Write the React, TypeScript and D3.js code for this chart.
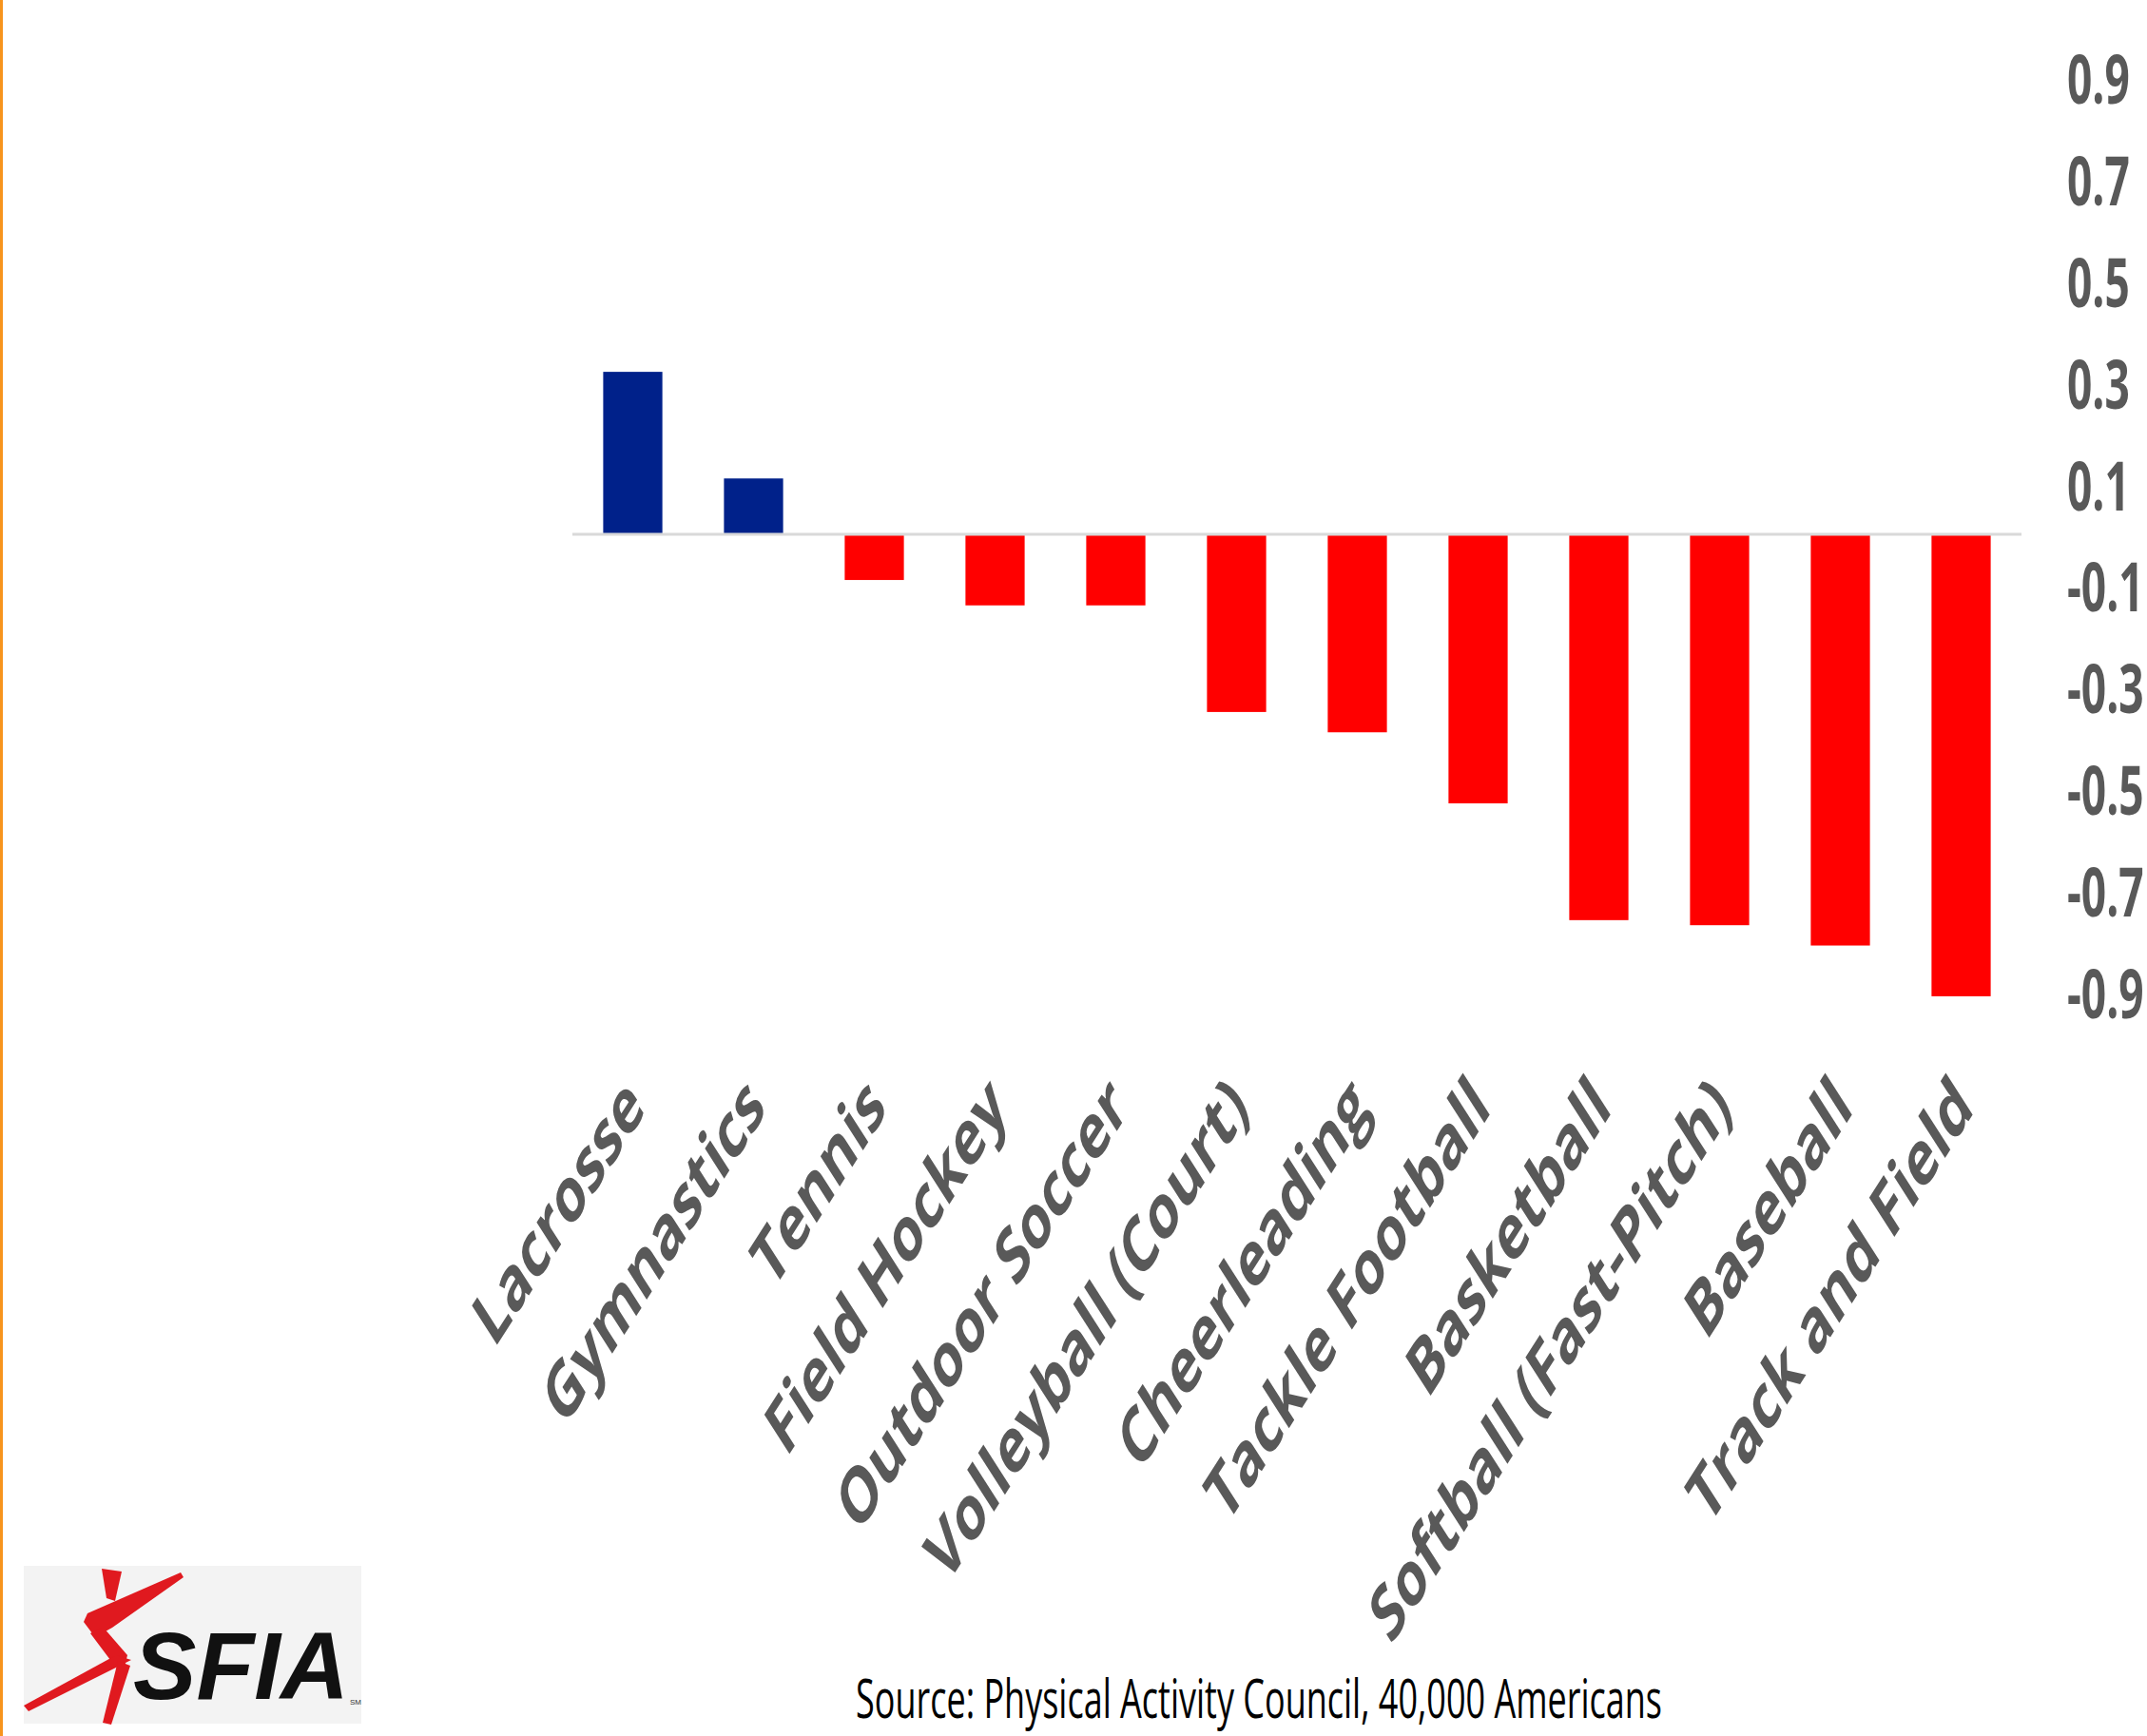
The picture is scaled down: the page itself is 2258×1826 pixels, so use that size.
import React from "react";
import * as d3 from "d3";

const categories = [
  "Lacrosse",
  "Gymnastics",
  "Tennis",
  "Field Hockey",
  "Outdoor Soccer",
  "Volleyball (Court)",
  "Cheerleading",
  "Tackle Football",
  "Basketball",
  "Softball (Fast-Pitch)",
  "Baseball",
  "Track and Field",
];
const values = [0.32, 0.11, -0.09, -0.14, -0.14, -0.35, -0.39, -0.53, -0.76, -0.77, -0.81, -0.91];
const tickValues = [0.9, 0.7, 0.5, 0.3, 0.1, -0.1, -0.3, -0.5, -0.7, -0.9];
const tickLabels = ["0.9", "0.7", "0.5", "0.3", "0.1", "-0.1", "-0.3", "-0.5", "-0.7", "-0.9"];
const sourceText = "Source: Physical Activity Council, 40,000 Americans";
const logoText = "SFIA";

const W = 2258;
const H = 1826;
const K = 0.64; // horizontal squish of the picture

export default function App() {
  const x = d3
    .scaleBand<string>()
    .domain(categories)
    .range([602, 2126])
    .paddingInner(0.51)
    .paddingOuter(0.255);
  const y = d3.scaleLinear().domain([-1, 1]).range([1096, 28]);
  const y0 = y(0);
  const red = "#E0191F";

  return (
    <svg
      width={W}
      height={H}
      viewBox={`0 0 ${W} ${H}`}
      style={{ position: "absolute", left: 0, top: 0, background: "#ffffff" }}
    >
      <rect x={0} y={0} width={W} height={H} fill="#ffffff" />
      <rect x={0} y={0} width={3} height={H} fill="#F7941D" />

      {/* bars */}
      {categories.map((c, i) => {
        const v = values[i];
        const top = v >= 0 ? y(v) : y0;
        const h = Math.abs(y(v) - y0);
        return (
          <rect
            key={c}
            x={x(c)}
            y={top}
            width={x.bandwidth()}
            height={h}
            fill={v >= 0 ? "#00218A" : "#FF0000"}
          />
        );
      })}

      {/* zero line */}
      <line x1={602} x2={2126} y1={y0} y2={y0} stroke="#D9D9D9" strokeWidth={3} />

      {/* y tick labels on the right */}
      {tickValues.map((t, i) => (
        <g key={t} transform={`translate(2174,${y(t)}) scale(${K},1)`}>
          <text
            x={0}
            y={0}
            dominantBaseline="central"
            fontFamily="'Open Sans', sans-serif"
            fontWeight={700}
            fontSize={72}
            fill="#595959"
          >
            {tickLabels[i]}
          </text>
        </g>
      ))}

      {/* category labels */}
      {categories.map((c) => {
        const cx = (x(c) as number) + x.bandwidth() / 2;
        return (
          <g key={c} transform={`translate(${cx + 15},1168) scale(${K},1) rotate(-45)`}>
            <text
              x={0}
              y={0}
              textAnchor="end"
              fontFamily="'Open Sans', sans-serif"
              fontWeight={700}
              fontSize={82}
              fill="#595959"
            >
              {c}
            </text>
          </g>
        );
      })}

      {/* source */}
      <text
        x={900}
        y={1807}
        fontFamily="'Open Sans', sans-serif"
        fontSize={56}
        fill="#000000"
        textLength={848}
        lengthAdjust="spacingAndGlyphs"
      >
        {sourceText}
      </text>

      {/* logo */}
      <g>
        <rect x={25} y={1647} width={355} height={166} fill="#F3F3F3" />
        {/* head */}
        <path d="M107,1650 L128,1653 L121,1684 L112,1681 Z" fill={red} />
        {/* arm up right */}
        <path d="M88,1706 L92,1697 L190,1654 L193,1659 L118,1712 L100,1722 Z" fill={red} />
        {/* torso */}
        <path d="M95,1718 L108,1711 L134,1741 L131,1753 L119,1750 Z" fill={red} />
        {/* back leg */}
        <path d="M122,1741 L138,1746 L30,1800 L25,1794 Z" fill={red} />
        {/* front leg */}
        <path d="M124,1747 L137,1752 L117,1814 L108,1812 Z" fill={red} />
        <text
          x={140}
          y={1787}
          fontFamily="'Liberation Sans', Arial, sans-serif"
          fontWeight={700}
          fontStyle="italic"
          fontSize={100}
          fill="#111111"
          textLength={227}
          lengthAdjust="spacingAndGlyphs"
        >
          {logoText}
        </text>
        <text x={368} y={1793} fontFamily="'Liberation Sans', Arial, sans-serif" fontSize={8} fill="#333">
          SM
        </text>
      </g>
    </svg>
  );
}
